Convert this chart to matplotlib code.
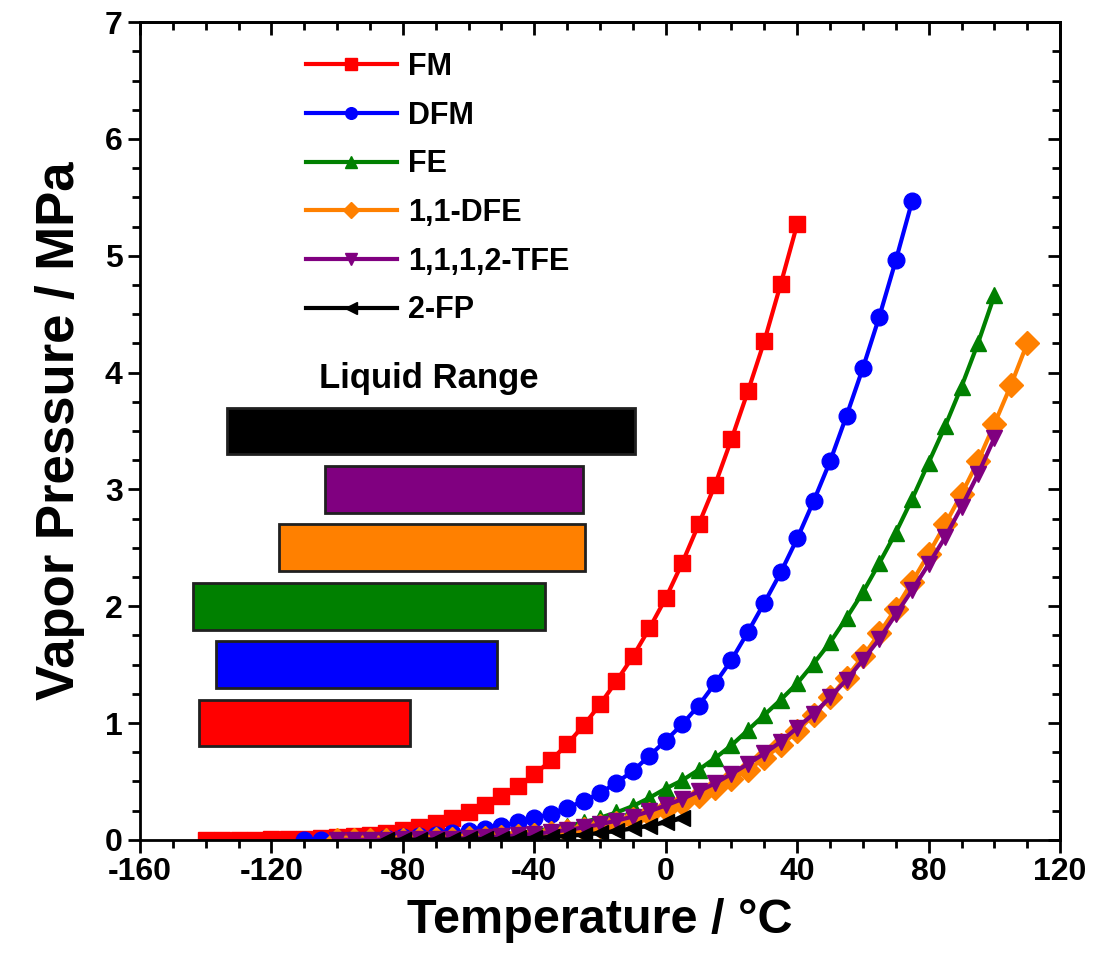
import matplotlib
matplotlib.use("Agg")
import matplotlib.pyplot as plt
from matplotlib.ticker import MultipleLocator

plt.rcParams['font.family'] = ['Liberation Sans', 'DejaVu Sans']
plt.rcParams['font.weight'] = 'bold'
plt.rcParams['axes.unicode_minus'] = False

# vapour pressure curves, T in degC, P in MPa
t_fm = [-140, -135, -130, -125, -120, -115, -110, -105, -100, -95, -90, -85, -80,
        -75, -70, -65, -60, -55, -50, -45, -40, -35, -30, -25, -20, -15, -10, -5,
        0, 5, 10, 15, 20, 25, 30, 35, 40]
p_fm = [0.0004, 0.0008, 0.0015, 0.0025, 0.004, 0.006, 0.009, 0.014, 0.021, 0.03,
        0.043, 0.06, 0.082, 0.11, 0.145, 0.19, 0.24, 0.30, 0.375, 0.46, 0.56, 0.68,
        0.82, 0.98, 1.16, 1.36, 1.57, 1.81, 2.07, 2.37, 2.70, 3.04, 3.43, 3.84,
        4.27, 4.76, 5.27]

t_dfm = [-110, -105, -100, -95, -90, -85, -80, -75, -70, -65, -60, -55, -50, -45,
         -40, -35, -30, -25, -20, -15, -10, -5, 0, 5, 10, 15, 20, 25, 30, 35, 40,
         45, 50, 55, 60, 65, 70, 75]
p_dfm = [0.002, 0.003, 0.005, 0.007, 0.011, 0.016, 0.022, 0.031, 0.042, 0.056,
         0.073, 0.095, 0.12, 0.15, 0.185, 0.225, 0.275, 0.335, 0.40, 0.49, 0.59,
         0.72, 0.85, 0.99, 1.15, 1.34, 1.54, 1.78, 2.03, 2.29, 2.58, 2.90, 3.24,
         3.63, 4.04, 4.48, 4.96, 5.47]

t_fe = [-100, -95, -90, -85, -80, -75, -70, -65, -60, -55, -50, -45, -40, -35,
        -30, -25, -20, -15, -10, -5, 0, 5, 10, 15, 20, 25, 30, 35, 40, 45, 50, 55,
        60, 65, 70, 75, 80, 85, 90, 95, 100]
p_fe = [0.001, 0.0015, 0.0025, 0.004, 0.006, 0.009, 0.013, 0.018, 0.025, 0.034,
        0.045, 0.059, 0.076, 0.097, 0.12, 0.15, 0.19, 0.235, 0.29, 0.36, 0.44,
        0.51, 0.60, 0.70, 0.81, 0.94, 1.07, 1.20, 1.34, 1.51, 1.69, 1.90, 2.12,
        2.37, 2.63, 2.92, 3.23, 3.54, 3.88, 4.25, 4.66]

t_dfe = [-100, -95, -90, -85, -80, -75, -70, -65, -60, -55, -50, -45, -40, -35,
         -30, -25, -20, -15, -10, -5, 0, 5, 10, 15, 20, 25, 30, 35, 40, 45, 50, 55,
         60, 65, 70, 75, 80, 85, 90, 95, 100, 105, 110]
p_dfe = [0.0005, 0.0008, 0.0013, 0.002, 0.003, 0.0045, 0.0065, 0.009, 0.013,
         0.018, 0.025, 0.033, 0.044, 0.057, 0.073, 0.093, 0.117, 0.145, 0.18, 0.22,
         0.265, 0.32, 0.38, 0.445, 0.52, 0.60, 0.70, 0.81, 0.93, 1.07, 1.22, 1.39,
         1.57, 1.77, 1.98, 2.21, 2.45, 2.70, 2.96, 3.24, 3.56, 3.89, 4.25]

t_tfe = [-100, -95, -90, -85, -80, -75, -70, -65, -60, -55, -50, -45, -40, -35,
         -30, -25, -20, -15, -10, -5, 0, 5, 10, 15, 20, 25, 30, 35, 40, 45, 50, 55,
         60, 65, 70, 75, 80, 85, 90, 95, 100]
p_tfe = [0.0006, 0.001, 0.0016, 0.0025, 0.0038, 0.0055, 0.008, 0.011, 0.016,
         0.022, 0.030, 0.040, 0.052, 0.067, 0.085, 0.107, 0.133, 0.165, 0.20, 0.245,
         0.295, 0.35, 0.415, 0.485, 0.565, 0.65, 0.74, 0.84, 0.96, 1.08, 1.22, 1.37,
         1.54, 1.72, 1.93, 2.14, 2.36, 2.59, 2.85, 3.13, 3.44]

t_fp = [-85, -80, -75, -70, -65, -60, -55, -50, -45, -40, -35, -30, -25, -20, -15,
        -10, -5, 0, 5]
p_fp = [0.0005, 0.0008, 0.0013, 0.002, 0.003, 0.0045, 0.0065, 0.009, 0.013, 0.018,
        0.025, 0.034, 0.045, 0.059, 0.077, 0.098, 0.122, 0.15, 0.185]

names = ["FM", "DFM", "FE", "1,1-DFE", "1,1,1,2-TFE", "2-FP"]
colors = ["#ff0000", "#0000ff", "#008000", "#ff8000", "#800080", "#000000"]
markers = ["s", "o", "^", "D", "v", "<"]

# liquid range: melting point and normal boiling point, degC
t_melt = [-142.0, -136.8, -143.8, -117.6, -103.6, -133.5]
t_boil = [-77.8, -51.5, -36.7, -24.6, -25.2, -9.4]
bar_y = [1.0, 1.5, 2.0, 2.5, 3.0, 3.5]

fig = plt.figure(figsize=(10.94, 9.61), dpi=100)
ax = fig.add_axes([0.128, 0.126, 0.841, 0.851])

curves = [(t_fm, p_fm), (t_dfm, p_dfm), (t_fe, p_fe),
          (t_dfe, p_dfe), (t_tfe, p_tfe), (t_fp, p_fp)]
for (t, p), name, c, m in zip(curves, names, colors, markers):
    ax.plot(t, p, color=c, marker=m, markersize=12, markeredgecolor=c,
            linewidth=3, label=name)

ax.barh(bar_y, [b - a for a, b in zip(t_melt, t_boil)], left=t_melt, height=0.4,
        color=colors, edgecolor="#202020", linewidth=2)
ax.text(-72, 3.95, "Liquid Range", fontsize=25, fontweight='bold', ha='center',
        va='center')

ax.set_xlim(-160, 120)
ax.set_ylim(0, 7)
ax.xaxis.set_major_locator(MultipleLocator(40))
ax.xaxis.set_minor_locator(MultipleLocator(10))
ax.yaxis.set_major_locator(MultipleLocator(1))
ax.yaxis.set_minor_locator(MultipleLocator(0.25))
ax.tick_params(which='both', direction='out', width=2, labelsize=23)
ax.tick_params(which='major', length=9)
ax.tick_params(which='minor', length=6)
for lab in ax.get_xticklabels() + ax.get_yticklabels():
    lab.set_fontweight('bold')

# mirrored inward ticks on the top and right
top = ax.secondary_xaxis('top')
top.xaxis.set_major_locator(MultipleLocator(40))
top.xaxis.set_minor_locator(MultipleLocator(10))
top.tick_params(which='both', direction='in', width=2, labeltop=False)
top.tick_params(which='major', length=9)
top.tick_params(which='minor', length=6)
right = ax.secondary_yaxis('right')
right.yaxis.set_major_locator(MultipleLocator(1))
right.yaxis.set_minor_locator(MultipleLocator(0.25))
right.tick_params(which='both', direction='in', width=2, labelright=False)
right.tick_params(which='major', length=9)
right.tick_params(which='minor', length=6)

for s in ax.spines.values():
    s.set_linewidth(2)
top.spines['top'].set_linewidth(2)
right.spines['right'].set_linewidth(2)

ax.set_xlabel("Temperature / °C", fontsize=35, fontweight='bold', labelpad=8)
ax.set_ylabel("Vapor Pressure / MPa", fontsize=38, fontweight='bold', labelpad=14)

ax.legend(loc='upper left', bbox_to_anchor=(0.15, 0.997), frameon=False,
          handlelength=3.0, handletextpad=0.35, labelspacing=0.61,
          markerscale=0.7, numpoints=1, prop={'weight': 'bold', 'size': 22})

fig.savefig("out.png", dpi=100)
